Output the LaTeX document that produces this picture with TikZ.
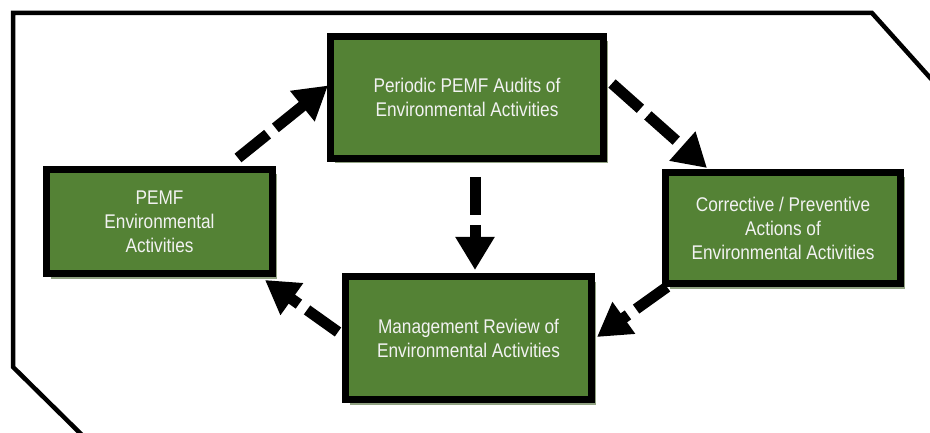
\documentclass[tikz,border=0pt]{standalone}
\usepackage{fontspec}
\setmainfont{Liberation Sans}
\newfontface\boxfont[FakeStretch=0.87]{Liberation Sans}
\usetikzlibrary{arrows.meta,shadows}
\definecolor{boxgreen}{RGB}{84,130,53}
\definecolor{shadowgreen}{RGB}{145,162,130}
\definecolor{textwhite}{RGB}{242,242,242}
\begin{document}
\begin{tikzpicture}[x=1pt,y=-1pt,
  stagebox/.style={draw=black,line width=7pt,fill=boxgreen,inner sep=0pt,
    text=textwhite,align=center,font=\boxfont\fontsize{19.8}{24}\selectfont,
    drop shadow={shadow xshift=4pt,shadow yshift=-5pt,fill=shadowgreen,opacity=1}},
  flow/.style={line width=11pt,dash pattern=on 38pt off 10pt,
    -{Triangle[length=33pt,width=37pt]}},
  frame/.style={line width=4.5pt,line join=miter}]
\clip (0,0) rectangle (930,433);
\fill[white] (0,0) rectangle (930,433);
\draw[frame] (83,436) -- (13,367) -- (13,13) -- (872,13) -- (933,81);
\node[stagebox,minimum width=226pt,minimum height=104pt] (pemf) at (159.5,221.5) {PEMF\\Environmental\\Activities};
\node[stagebox,minimum width=273pt,minimum height=122pt] (per) at (467,97.5) {Periodic PEMF Audits of\\Environmental Activities};
\node[stagebox,minimum width=235pt,minimum height=111pt] (cor) at (783,228) {Corrective / Preventive\\Actions of\\Environmental Activities};
\node[stagebox,minimum width=246pt,minimum height=123pt] (mgmt) at (468.5,338) {Management Review of\\Environmental Activities};
\draw[flow] ([xshift=-38pt,yshift=8pt]pemf.north east) -- ([xshift=1pt,yshift=12pt]per.west);
\draw[flow] ([xshift=5pt,yshift=14pt]per.east) -- ([xshift=45pt,yshift=1pt]cor.north west);
\draw[flow] ([xshift=8pt,yshift=-15pt]per.south) -- ([xshift=6.5pt,yshift=3pt]mgmt.north);
\draw[flow] ([xshift=5pt]cor.south west) -- ([xshift=2pt,yshift=1pt]mgmt.east);
\draw[flow] ([xshift=-4pt,yshift=6pt]mgmt.west) -- ([xshift=-11pt,yshift=-3pt]pemf.south east);
\end{tikzpicture}
\end{document}
